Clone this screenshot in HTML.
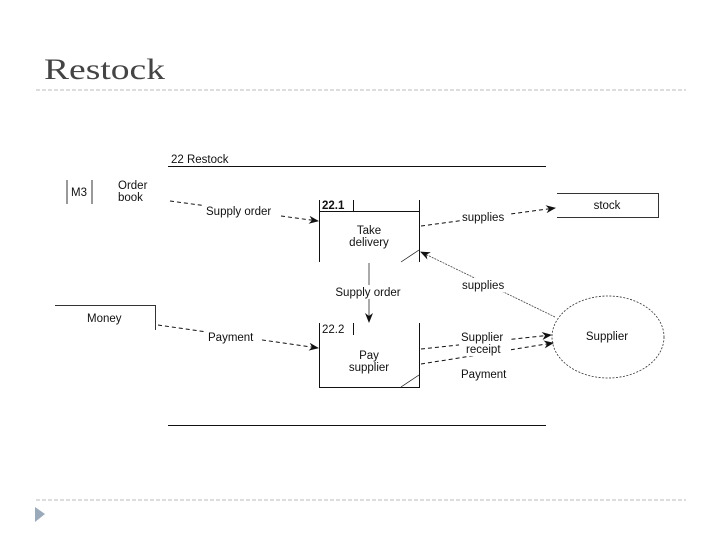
<!DOCTYPE html>
<html><head><style>
body{margin:0;background:#fff;}
svg{display:block;}
</style></head><body>
<svg width="720" height="540" viewBox="0 0 720 540" xmlns="http://www.w3.org/2000/svg">
<defs>
<marker id="a" markerWidth="10" markerHeight="8" refX="9" refY="4" orient="auto" markerUnits="userSpaceOnUse">
<path d="M0,0 L10,4 L0,8 L3,4 Z" fill="#111"/>
</marker>
</defs>
<text x="44" y="79" font-family="Liberation Serif, serif" font-size="30" fill="#444" textLength="121" lengthAdjust="spacingAndGlyphs">Restock</text>
<line x1="36" y1="90" x2="686" y2="90" stroke="#bbb" stroke-dasharray="4,2"/>
<line x1="36" y1="500" x2="686" y2="500" stroke="#bbb" stroke-dasharray="4,2"/>
<path d="M35,507 L45,514 L35,522 Z" fill="#9aaabb"/>

<g font-family="Liberation Sans, sans-serif" font-size="11.5" fill="#111">
<text x="171" y="163">22   Restock</text>
<line x1="168" y1="166.5" x2="546" y2="166.5" stroke="#111"/>
<line x1="168" y1="425.5" x2="546" y2="425.5" stroke="#111"/>

<line x1="67" y1="180" x2="67" y2="204" stroke="#333"/>
<line x1="92" y1="180" x2="92" y2="204" stroke="#333"/>
<text x="71" y="196">M3</text>
<text x="118" y="189">Order</text>
<text x="118" y="201">book</text>

<line x1="170" y1="201" x2="318" y2="221" stroke="#111" stroke-dasharray="4,3" marker-end="url(#a)"/>
<rect x="203" y="203" width="76" height="14" fill="#fff"/>
<text x="206" y="215">Supply order</text>

<g stroke="#111" fill="none">
<line x1="319.5" y1="200" x2="319.5" y2="262"/>
<line x1="419.5" y1="200" x2="419.5" y2="262"/>
<line x1="319" y1="211.5" x2="420" y2="211.5"/>
<line x1="353.5" y1="200" x2="353.5" y2="211"/>
<line x1="401" y1="262" x2="419" y2="250" stroke-width="0.7"/>
<line x1="319.5" y1="323" x2="319.5" y2="387"/>
<line x1="419.5" y1="323" x2="419.5" y2="387"/>
<line x1="319" y1="387.5" x2="420" y2="387.5"/>
<line x1="353.5" y1="323" x2="353.5" y2="335"/>
<line x1="401" y1="387" x2="419" y2="375" stroke-width="0.7"/>
</g>
<text x="322" y="209" font-weight="bold">22.1</text>
<text x="369" y="234" text-anchor="middle">Take</text>
<text x="369" y="246" text-anchor="middle">delivery</text>
<text x="322" y="333">22.2</text>
<text x="369" y="359" text-anchor="middle">Pay</text>
<text x="369" y="371" text-anchor="middle">supplier</text>

<line x1="369" y1="263" x2="369" y2="322" stroke="#555" marker-end="url(#a)"/>
<rect x="330" y="285" width="76" height="14" fill="#fff"/>
<text x="368" y="296" text-anchor="middle">Supply order</text>

<g stroke="#333" fill="none">
<line x1="557" y1="193.5" x2="659" y2="193.5"/>
<line x1="658.5" y1="193" x2="658.5" y2="217"/>
<line x1="557" y1="217.5" x2="659" y2="217.5"/>
</g>
<text x="607" y="209" text-anchor="middle">stock</text>

<line x1="421" y1="226" x2="555" y2="208" stroke="#111" stroke-dasharray="4,3" marker-end="url(#a)"/>
<rect x="461" y="210" width="50" height="13" fill="#fff"/>
<text x="462" y="221">supplies</text>

<line x1="555" y1="317" x2="421" y2="252" stroke="#444" stroke-width="0.8" stroke-dasharray="2,1" marker-end="url(#a)"/>
<rect x="461" y="278" width="50" height="14" fill="#fff"/>
<text x="462" y="289">supplies</text>

<line x1="55" y1="305.5" x2="155" y2="305.5" stroke="#333"/>
<line x1="155.5" y1="305" x2="155.5" y2="330" stroke="#333"/>
<text x="87" y="322">Money</text>

<line x1="158" y1="325" x2="318" y2="348" stroke="#111" stroke-dasharray="4,3" marker-end="url(#a)"/>
<rect x="205" y="329" width="56" height="14" fill="#fff"/>
<text x="208" y="341">Payment</text>

<ellipse cx="608" cy="337" rx="56" ry="41" fill="none" stroke="#333" stroke-dasharray="2,1.5" stroke-width="0.8"/>
<text x="607" y="340" text-anchor="middle">Supplier</text>

<line x1="421" y1="349" x2="551" y2="335" stroke="#111" stroke-dasharray="4,3" marker-end="url(#a)"/>
<line x1="421" y1="364" x2="553" y2="343" stroke="#111" stroke-dasharray="4,3" marker-end="url(#a)"/>
<rect x="459" y="330" width="52" height="26" fill="#fff"/>
<text x="461" y="341">Supplier</text>
<text x="466" y="353">receipt</text>
<rect x="459" y="366" width="52" height="14" fill="#fff"/>
<text x="461" y="378">Payment</text>
</g>
</svg>
</body></html>
